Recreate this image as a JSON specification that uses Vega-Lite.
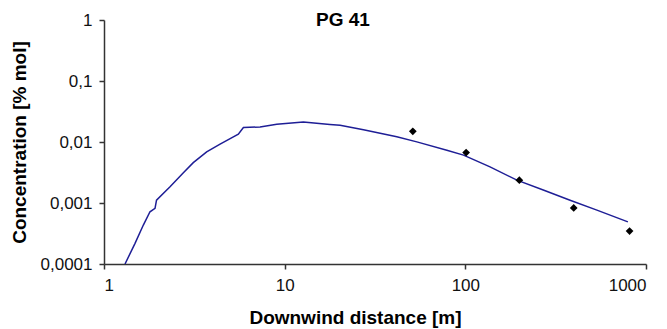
{
  "$schema": "https://vega.github.io/schema/vega-lite/v6.json",
  "width": 542,
  "height": 244,
  "autosize": {"type": "none"},
  "padding": {"left": 104, "top": 20, "right": 21, "bottom": 65},
  "background": "white",
  "config": {
    "view": {"stroke": null},
    "font": "Liberation Sans",
    "axis": {
      "grid": false,
      "domainColor": "#333333",
      "domainWidth": 1.5,
      "tickColor": "#333333",
      "tickWidth": 1.5,
      "tickSize": 5,
      "labelFont": "Liberation Sans",
      "labelFontSize": 17,
      "labelColor": "#111111",
      "titleFont": "Liberation Sans",
      "titleFontSize": 19,
      "titleFontWeight": "bold",
      "titleColor": "#000000"
    }
  },
  "title": {
    "text": "PG 41",
    "font": "Liberation Sans",
    "fontSize": 19,
    "fontWeight": "bold",
    "color": "#000000",
    "anchor": "middle",
    "frame": "group",
    "baseline": "alphabetic",
    "offset": 0,
    "dx": -32,
    "dy": 34
  },
  "datasets": {
    "model": [
      {"x": 1.307, "y": 0.0001},
      {"x": 1.485, "y": 0.000218},
      {"x": 1.651, "y": 0.000435},
      {"x": 1.797, "y": 0.000718},
      {"x": 1.916, "y": 0.000816},
      {"x": 1.953, "y": 0.001115},
      {"x": 2.32, "y": 0.00184},
      {"x": 2.75, "y": 0.00314},
      {"x": 3.12, "y": 0.00459},
      {"x": 3.7, "y": 0.00689},
      {"x": 4.39, "y": 0.0092},
      {"x": 5.2, "y": 0.01212},
      {"x": 5.54, "y": 0.01342},
      {"x": 5.91, "y": 0.01727},
      {"x": 7.31, "y": 0.01767},
      {"x": 9.04, "y": 0.01956},
      {"x": 12.69, "y": 0.02133},
      {"x": 17.8, "y": 0.0194},
      {"x": 20.27, "y": 0.01884},
      {"x": 27.3, "y": 0.0159},
      {"x": 41.75, "y": 0.01222},
      {"x": 53.9, "y": 0.01004},
      {"x": 79.0, "y": 0.00734},
      {"x": 97.7, "y": 0.0061},
      {"x": 137, "y": 0.00391},
      {"x": 193, "y": 0.00237},
      {"x": 270, "y": 0.00163},
      {"x": 380, "y": 0.00111},
      {"x": 535, "y": 0.000765},
      {"x": 794, "y": 0.00049}
    ],
    "measured": [
      {"x": 51.2, "y": 0.0150},
      {"x": 101, "y": 0.0067},
      {"x": 199, "y": 0.00237},
      {"x": 398, "y": 0.00083},
      {"x": 811, "y": 0.000347}
    ]
  },
  "encoding": {
    "x": {
      "field": "x",
      "type": "quantitative",
      "scale": {"type": "log", "domain": [1, 1000], "nice": false},
      "axis": {
        "title": "Downwind distance [m]",
        "values": [1, 10, 100, 1000],
        "labelExpr": "replace(format(datum.value, '~g'), '.', ',')",
        "labelPadding": 8,
        "titleX": 251,
        "titleY": 59,
        "titleBaseline": "alphabetic",
        "titleAnchor": "middle"
      }
    },
    "y": {
      "field": "y",
      "type": "quantitative",
      "scale": {"type": "log", "domain": [0.0001, 1], "nice": false},
      "axis": {
        "title": "Concentration [% mol]",
        "values": [0.0001, 0.001, 0.01, 0.1, 1],
        "labelExpr": "replace(format(datum.value, '~g'), '.', ',')",
        "labelPadding": 7,
        "titleX": -79,
        "titleBaseline": "alphabetic"
      }
    }
  },
  "layer": [
    {
      "data": {"name": "model"},
      "mark": {"type": "line", "color": "#1e1e96", "strokeWidth": 1.5, "clip": true}
    },
    {
      "data": {"name": "measured"},
      "mark": {"type": "point", "shape": "diamond", "filled": true, "color": "#000000", "size": 60, "opacity": 1}
    }
  ]
}
